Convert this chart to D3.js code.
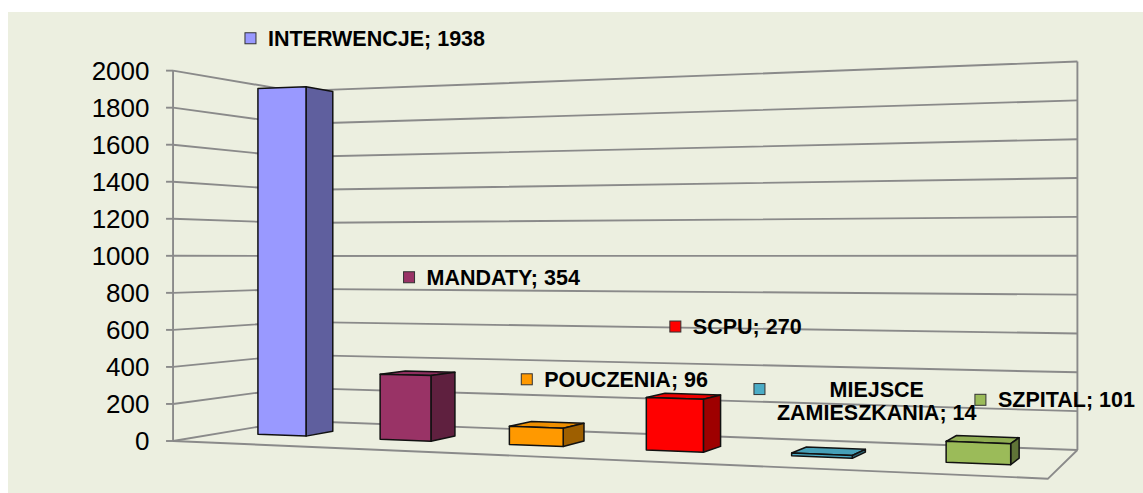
<!DOCTYPE html>
<html>
<head>
<meta charset="utf-8">
<script src="https://cdn.jsdelivr.net/npm/d3@7"></script>
<style>
  html, body { margin: 0; padding: 0; background: #ffffff; }
  svg { display: block; }
</style>
</head>
<body>
<svg id="chart" width="1143" height="493"></svg>
<script>
// ---------------- DATA ----------------
const categories = ["INTERWENCJE", "MANDATY", "POUCZENIA", "SCPU", "MIEJSCE ZAMIESZKANIA", "SZPITAL"];
const labelLines = [["INTERWENCJE"], ["MANDATY"], ["POUCZENIA"], ["SCPU"], ["MIEJSCE", "ZAMIESZKANIA"], ["SZPITAL"]];
const values = [1938, 354, 96, 270, 14, 101];
const colors = ["#9999FF", "#993366", "#FF9900", "#FF0000", "#4BACC6", "#9BBB59"];
const yTicks = [0, 200, 400, 600, 800, 1000, 1200, 1400, 1600, 1800, 2000];
const yMax = 2000;

// ---------------- LAYOUT ----------------
// label offsets (legend-key left x, key centre y) relative to projected top-front centre of each bar
const labelOffsets = [[-37, -48.5], [-2, -97], [-15, -47], [-5, -71], [-68, -64], [-3.5, -41.5]];

const svg = d3.select("#chart");
const Wpx = 1143, Hpx = 493;

svg.append("rect").attr("x", 8).attr("y", 12).attr("width", Wpx - 8).attr("height", Hpx - 12)
  .attr("fill", "#ECEFE0");

// 2-point perspective camera
const cam = { cx: 571.5, yh: 257, f: 1812.8, sin: 0.3618, cos: 0.9323, tx: -2.198, tz: 10, h: 1.015 };
const floorW = 4.698, floorD = 1.3225, wallH = 2.043;

function project(X, Y, Z) {
  const xc = cam.cos * X + cam.sin * Z + cam.tx;
  const zc = -cam.sin * X + cam.cos * Z + cam.tz;
  return [cam.cx + cam.f * xc / zc, cam.yh + cam.f * (cam.h - Y) / zc];
}

const y = d3.scaleLinear().domain([0, yMax]).range([0, wallH]);
const x = d3.scaleBand().domain(categories).range([0, floorW]).paddingInner(0.6).paddingOuter(0.3);

const line = d3.line();
const gridColor = "#8A8A8A";

const grid = svg.append("g").attr("fill", "none").attr("stroke", gridColor)
  .attr("stroke-width", 1.9).attr("stroke-linejoin", "round");

// gridlines on left wall and back wall
yTicks.forEach(t => {
  const Y = y(t);
  grid.append("path").attr("d", line([project(0, Y, 0), project(0, Y, floorD), project(floorW, Y, floorD)]));
});
// vertical edges
grid.append("path").attr("d", line([project(0, 0, 0), project(0, wallH, 0)]));
grid.append("path").attr("d", line([project(0, 0, floorD), project(0, wallH, floorD)]));
grid.append("path").attr("d", line([project(floorW, 0, floorD), project(floorW, wallH, floorD)]));
// floor front and right edges
grid.append("path").attr("d", line([project(0, 0, 0), project(floorW, 0, 0), project(floorW, 0, floorD)]));

// ticks and tick labels
const axisG = svg.append("g");
yTicks.forEach(t => {
  const p = project(0, y(t), 0);
  axisG.append("line").attr("x1", p[0] - 7).attr("x2", p[0]).attr("y1", p[1]).attr("y2", p[1])
    .attr("stroke", gridColor).attr("stroke-width", 1.9);
  axisG.append("text").attr("x", 149.5).attr("y", p[1] + 9.5)
    .attr("text-anchor", "end")
    .attr("font-family", "Liberation Sans, Arial, sans-serif")
    .attr("font-size", 26).attr("fill", "#000")
    .text(t);
});

// bars
const barsG = svg.append("g").attr("stroke", "#111").attr("stroke-width", 1.5).attr("stroke-linejoin", "round");
const topFront = [];
categories.forEach((c, i) => {
  const x0 = x(c), x1 = x(c) + x.bandwidth();
  const z1 = floorD / 2 - x.bandwidth() / 2; // front
  const z0 = floorD / 2 + x.bandwidth() / 2; // back
  const Y = y(values[i]);
  const base = d3.color(colors[i]);
  const g = barsG.append("g");
  // top (visible only when below eye level)
  if (Y < cam.h) {
    g.append("path").attr("fill", base.darker(0.2).formatHex())
      .attr("d", line([project(x0, Y, z1), project(x1, Y, z1), project(x1, Y, z0), project(x0, Y, z0)]) + "Z");
  }
  // right side
  g.append("path").attr("fill", base.darker(1.35).formatHex())
    .attr("d", line([project(x1, 0, z1), project(x1, 0, z0), project(x1, Y, z0), project(x1, Y, z1)]) + "Z");
  // front
  g.append("path").attr("fill", base.formatHex())
    .attr("d", line([project(x0, 0, z1), project(x1, 0, z1), project(x1, Y, z1), project(x0, Y, z1)]) + "Z");
  const a = project(x0, Y, z1), b = project(x1, Y, z1);
  topFront.push([(a[0] + b[0]) / 2, Math.min(a[1], b[1])]);
});

// data labels with legend keys
const labelsG = svg.append("g").attr("font-family", "Liberation Sans, Arial, sans-serif")
  .attr("font-weight", "bold").attr("font-size", 21.5).attr("fill", "#000");
categories.forEach((c, i) => {
  const [px, py] = topFront[i];
  const kx = px + labelOffsets[i][0], ky = py + labelOffsets[i][1];
  labelsG.append("rect").attr("x", kx).attr("y", ky - 5.5).attr("width", 11).attr("height", 11)
    .attr("fill", colors[i]).attr("stroke", "#333").attr("stroke-width", 1);
  const lines = labelLines[i].slice();
  lines[lines.length - 1] = lines[lines.length - 1] + "; " + values[i];
  const texts = lines.map((l, j) => labelsG.append("text")
    .attr("y", ky + 7.5 + j * 23.5).text(l));
  const widths = texts.map(t => t.node().getComputedTextLength());
  const maxW = d3.max(widths);
  const cxText = kx + 23 + maxW / 2;
  texts.forEach(t => t.attr("x", cxText).attr("text-anchor", "middle"));
});
</script>
</body>
</html>
